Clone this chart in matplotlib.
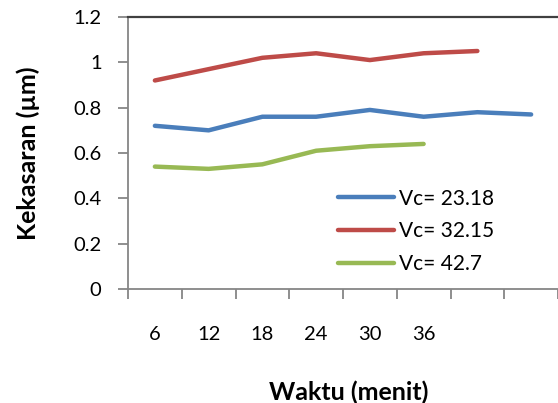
import matplotlib.pyplot as plt
import numpy as np

plt.rcParams['font.family'] = ['Lato', 'DejaVu Sans']

waktu_labels = ['6', '12', '18', '24', '30', '36', '', '']
vc_2318 = [0.72, 0.70, 0.76, 0.76, 0.79, 0.76, 0.78, 0.77]
vc_3215 = [0.92, 0.97, 1.02, 1.04, 1.01, 1.04, 1.05]
vc_427 = [0.54, 0.53, 0.55, 0.61, 0.63, 0.64]
series_names = ['Vc= 23.18', 'Vc= 32.15', 'Vc= 42.7']
colors = ['#4A7EBB', '#BE4B48', '#98B954']

fig = plt.figure(figsize=(5.58, 4.03), dpi=100)
ax = fig.add_axes([0.2294, 0.2829, 0.7706, 0.6749])

for vals, name, c in zip([vc_2318, vc_3215, vc_427], series_names, colors):
    x = np.arange(1, len(vals) + 1)
    ax.plot(x, vals, color=c, lw=3.2, label=name, solid_joinstyle='round',
            solid_capstyle='round')

ax.set_xlim(0.5, 8.42)
ax.set_ylim(0, 1.2)
ax.set_yticks(np.arange(0, 1.21, 0.2))
ax.set_yticklabels(['0', '0.2', '0.4', '0.6', '0.8', '1', '1.2'])

ax.set_xticks(np.arange(0.5, 9, 1))
ax.set_xticklabels([])
ax.set_xticks(np.arange(1, 9), waktu_labels, minor=True)
ax.tick_params(axis='x', which='major', length=7, width=1.3, color='#868686',
               direction='out')
ax.tick_params(axis='x', which='minor', length=0, pad=27, labelsize=14.5)
ax.tick_params(axis='y', length=7, width=1.3, color='#868686', pad=12,
               labelsize=14.5)

for s in ['left', 'bottom']:
    ax.spines[s].set_color('#868686')
    ax.spines[s].set_linewidth(1.3)
ax.spines['right'].set_visible(False)
ax.spines['top'].set_color('#404040')
ax.spines['top'].set_linewidth(1.6)

ax.set_xlabel('Waktu (menit)', fontsize=18, fontweight='bold')
ax.xaxis.set_label_coords(0.514, -0.335)
ax.set_ylabel('Kekasaran (\u00b5m)', fontsize=18, fontweight='bold')
ax.yaxis.set_label_coords(-0.205, 0.5)

ax.legend(loc='upper left', bbox_to_anchor=(0.47, 0.40), frameon=False,
          fontsize=15, handlelength=2.65, handletextpad=0.25, labelspacing=0.62,
          borderaxespad=0)

fig.savefig('out.png', dpi=100)
